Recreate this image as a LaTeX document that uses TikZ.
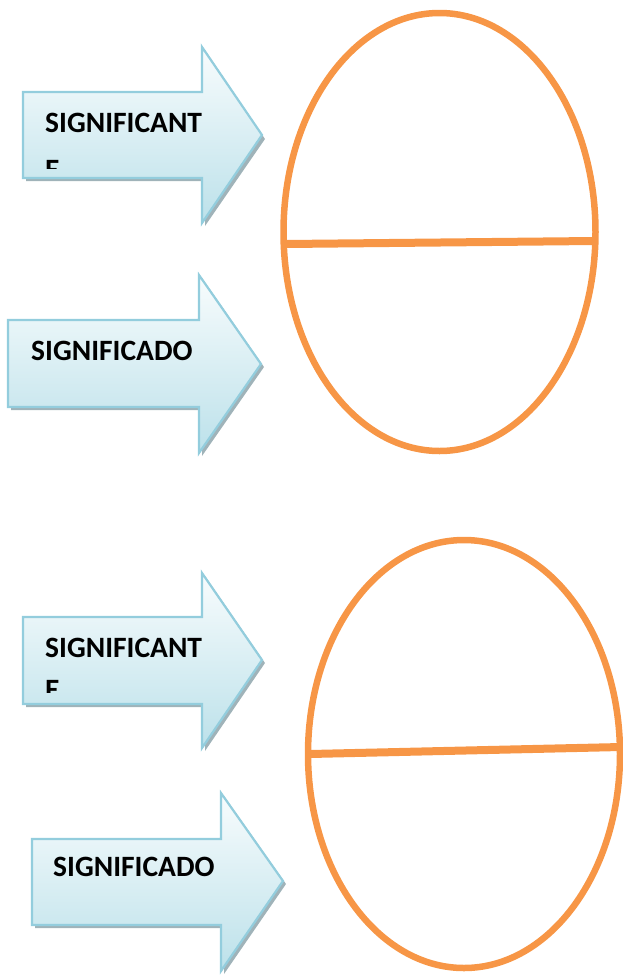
\documentclass[tikz,border=0pt]{standalone}
\usepackage{fontspec}
\setmainfont{Carlito}[BoldFont={Carlito Bold}]
\usetikzlibrary{shapes.geometric}
\definecolor{orng}{HTML}{F79646}
\definecolor{abord}{HTML}{93CDDD}
\definecolor{atop}{HTML}{F8FCFD}
\definecolor{abot}{HTML}{BCE1EA}
\definecolor{ashadow}{HTML}{8FA6AD}
\tikzset{
  arrowshadow/.style={fill=ashadow, opacity=0.85},
  arrowbody/.style={draw=abord, line width=2.2pt, top color=atop, bottom color=abot, line join=miter},
  lbl/.style={font=\bfseries\fontsize{29.5}{32}\selectfont, anchor=base west, inner sep=0pt, text=black},
  oval/.style={ellipse, draw=orng, line width=6.5pt, inner sep=0pt},
  divider/.style={draw=orng, line width=8pt},
}
\begin{document}
\begin{tikzpicture}[x=1pt,y=-1pt]
\useasboundingbox (0,0) rectangle (623,975);
% ---------- arrow 1
\fill[arrowshadow] (26,95) -- (205,95) -- (205,50) -- (265,139) -- (205,226) -- (205,181) -- (26,181) -- cycle;
\shade[arrowbody] (23,92) -- (202,92) -- (202,47) -- (262,135) -- (202,223) -- (202,178) -- (23,178) -- cycle;
\node[lbl] (t1) at (45,132) {SIGNIFICANT};
\begin{scope}
  \clip (40,100) rectangle (230,168);
  \node[lbl] (t1e) at (45,179) {E};
\end{scope}
% ---------- arrow 2
\fill[arrowshadow] (11,323) -- (202,323) -- (202,278) -- (264,367) -- (202,456) -- (202,410) -- (11,410) -- cycle;
\shade[arrowbody] (8,320) -- (199,320) -- (199,275) -- (261,364) -- (199,453) -- (199,407) -- (8,407) -- cycle;
\node[lbl] (t2) at (31,360) {SIGNIFICADO};
% ---------- arrow 3
\fill[arrowshadow] (26,620) -- (205,620) -- (205,576) -- (265,663) -- (205,751) -- (205,707) -- (26,707) -- cycle;
\shade[arrowbody] (23,617) -- (202,617) -- (202,573) -- (262,660) -- (202,748) -- (202,704) -- (23,704) -- cycle;
\node[lbl] (t3) at (45,657) {SIGNIFICANT};
\begin{scope}
  \clip (40,625) rectangle (230,692);
  \node[lbl] (t3e) at (45,699) {E};
\end{scope}
% ---------- arrow 4
\fill[arrowshadow] (35,842) -- (224,842) -- (224,796) -- (286,884) -- (224,974) -- (224,928) -- (35,928) -- cycle;
\shade[arrowbody] (32,839) -- (221,839) -- (221,793) -- (283,881) -- (221,971) -- (221,925) -- (32,925) -- cycle;
\node[lbl] (t4) at (53,876) {SIGNIFICADO};
% ---------- ovals
\node[oval, minimum width=312pt, minimum height=438pt] (e1) at (439.5,232) {};
\coordinate (d1a) at (286,244);
\coordinate (d1b) at (594,241);
\draw[divider] (d1a) -- (d1b);
\node[oval, minimum width=312pt, minimum height=428pt] (e2) at (464,754) {};
\coordinate (d2a) at (310,754);
\coordinate (d2b) at (621,747);
\draw[divider] (d2a) -- (d2b);
\end{tikzpicture}
\end{document}
